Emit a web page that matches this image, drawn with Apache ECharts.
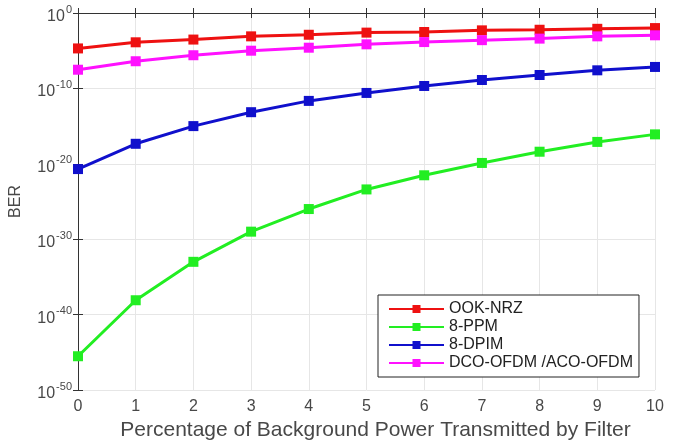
<!DOCTYPE html>
<html>
<head>
<meta charset="utf-8">
<script src="https://cdn.jsdelivr.net/npm/echarts@6/dist/echarts.min.js"></script>
<style>
  html, body { margin: 0; padding: 0; background: #fff; }
  #chart { width: 678px; height: 440px; }
</style>
</head>
<body>
<div id="chart"></div>
<script>
// BER vs percentage of background power
const xs = [0, 1, 2, 3, 4, 5, 6, 7, 8, 9, 10]
const ookNrz = [2e-5, 1.3e-4, 3e-4, 8e-4, 1.3e-3, 2.5e-3, 3e-3, 5e-3, 6e-3, 8e-3, 1e-2]
const ppm8 = [3e-46, 8e-39, 1e-33, 1e-29, 1e-26, 4e-24, 3e-22, 1.3e-20, 4e-19, 8e-18, 8e-17]
const dpim8 = [2e-21, 4.5e-18, 1e-15, 7e-14, 2.2e-12, 2.5e-11, 2.1e-10, 1.3e-9, 6e-9, 2.5e-8, 7e-8]
const ofdm = [3e-8, 4e-7, 2.5e-6, 1e-5, 2.5e-5, 7e-5, 1.4e-4, 2.5e-4, 4e-4, 8e-4, 1.1e-3]

// y axis decades (exponents of 10)
const yMinExp = -50
const yMaxExp = 0
const yStepExp = 10

const font = '"Liberation Sans", Arial, sans-serif'
const labelColor = '#484848'
const gridColor = '#e6e6e6'

// ECharts' log scale loses precision near 1e-50, so plot log10(BER) on a value axis
function pairs(vals) {
  return xs.map((x, i) => [x, Math.log10(vals[i])])
}

function line(name, vals, color) {
  return {
    name,
    type: 'line',
    data: pairs(vals),
    symbol: 'rect',
    symbolSize: 10,
    lineStyle: { width: 3, color },
    itemStyle: { color },
    z: 3
  }
}

const boxAxis = {
  axisLine: { show: true, lineStyle: { color: '#333' } },
  axisTick: { show: true, inside: true, length: 5, lineStyle: { color: '#333' } },
  axisLabel: { show: false },
  splitLine: { show: false }
}

const chart = echarts.init(document.getElementById('chart'))
chart.setOption({
  animation: false,
  textStyle: { fontFamily: font },
  tooltip: { trigger: 'axis', valueFormatter: v => Math.pow(10, v).toExponential(1) },
  grid: { left: 78, right: 23, top: 13, bottom: 50, outerBoundsMode: 'none' },
  xAxis: [
    {
      type: 'value', min: 0, max: 10, interval: 1,
      name: 'Percentage of Background Power Transmitted by Filter',
      nameLocation: 'middle', nameGap: 30,
      nameTextStyle: { fontSize: 21, color: labelColor, fontFamily: font, padding: [0, 0, 0, 18] },
      axisLine: { lineStyle: { color: '#333' } },
      axisTick: { inside: true, length: 5, lineStyle: { color: '#333' } },
      axisLabel: { fontSize: 16, color: labelColor, margin: 9 },
      splitLine: { show: true, lineStyle: { color: gridColor } }
    },
    { type: 'value', position: 'top', min: 0, max: 10, interval: 1, ...boxAxis }
  ],
  yAxis: [
    {
      type: 'value', min: yMinExp, max: yMaxExp, interval: yStepExp,
      name: 'BER', nameLocation: 'middle', nameGap: 54, nameRotate: 90,
      nameTextStyle: { fontSize: 16, color: labelColor, fontFamily: font },
      axisLine: { show: true, lineStyle: { color: '#333' } },
      axisTick: { show: true, inside: true, length: 5, lineStyle: { color: '#333' } },
      axisLabel: {
        margin: 6,
        formatter: v => '{b|10}{s|' + Math.round(v) + '}',
        rich: {
          b: { fontSize: 16, color: labelColor, fontFamily: font, padding: [7, 0, 0, 0] },
          s: { fontSize: 11, color: labelColor, fontFamily: font, padding: [0, 0, 7, 1] }
        }
      },
      splitLine: { show: true, lineStyle: { color: gridColor } }
    },
    { type: 'value', position: 'right', min: yMinExp, max: yMaxExp, interval: yStepExp, ...boxAxis }
  ],
  legend: {
    orient: 'vertical',
    left: 378, top: 295,
    padding: [6, 6, 6, 10],
    itemGap: 2,
    itemWidth: 55, itemHeight: 10,
    backgroundColor: '#fff',
    borderColor: '#222', borderWidth: 1,
    textStyle: { fontSize: 16, lineHeight: 16, color: '#222', fontFamily: font },
    data: ['OOK-NRZ', '8-PPM', '8-DPIM', 'DCO-OFDM /ACO-OFDM']
  },
  series: [
    line('OOK-NRZ', ookNrz, '#ee1111'),
    line('8-PPM', ppm8, '#22ee22'),
    line('8-DPIM', dpim8, '#1010cc'),
    line('DCO-OFDM /ACO-OFDM', ofdm, '#ff11ff')
  ]
})
</script>
</body>
</html>
